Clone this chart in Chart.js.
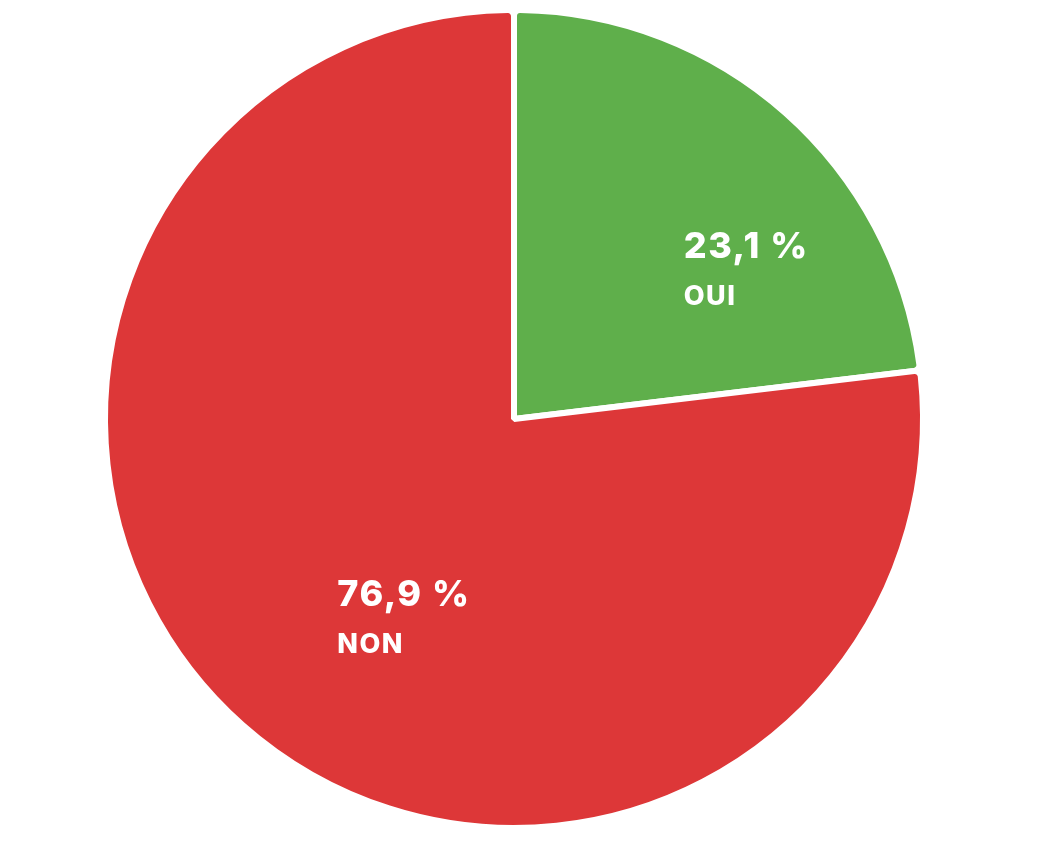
<!DOCTYPE html>
<html>
<head>
<meta charset="utf-8">
<script src="https://cdn.jsdelivr.net/npm/chart.js@4.4.1/dist/chart.umd.min.js"></script>
<style>
  html, body { margin: 0; padding: 0; background: #fff; }
  #wrap { width: 1037px; height: 842px; position: relative; }
</style>
</head>
<body>
<div id="wrap"><canvas id="pie"></canvas></div>
<script>
// ── 데이터 ──
var labels = ['OUI', 'NON'];
var values = [23.1, 76.9];
var colors = ['#5FAF4B', '#DD3738'];

// ── 라벨 위치 보정 (arc 중심 기준) ──
var labelOffsets = [
  { dx: 34, dy: -8 },
  { dx: -41, dy: 34 }
];

function fmt(v) {
  return v.toFixed(1).replace('.', ',') + ' %';
}

var sliceLabels = {
  id: 'sliceLabels',
  afterDatasetsDraw: function(chart) {
    var ctx = chart.ctx;
    var meta = chart.getDatasetMeta(0);
    meta.data.forEach(function(arc, i) {
      var p = arc.tooltipPosition();
      var off = labelOffsets[i];
      var x = p.x + off.dx;
      var y = p.y + off.dy;
      ctx.save();
      ctx.fillStyle = '#fff';
      ctx.textAlign = 'left';
      ctx.textBaseline = 'alphabetic';
      ctx.font = '800 36px Inter';
      ctx.letterSpacing = '1.5px';
      ctx.fillText(fmt(values[i]), x, y);
      ctx.font = '800 27px Inter';
      ctx.letterSpacing = '1.5px';
      ctx.fillText(labels[i], x, y + 47);
      ctx.restore();
    });
  }
};

new Chart(document.getElementById('pie'), {
  type: 'pie',
  data: {
    labels: labels,
    datasets: [{
      data: values,
      backgroundColor: colors,
      borderColor: '#fff',
      borderWidth: 6,
      borderRadius: 6
    }]
  },
  options: {
    responsive: true,
    maintainAspectRatio: false,
    animation: false,
    layout: { padding: { top: 7, bottom: 11, left: 102, right: 111 } },
    plugins: {
      legend: { display: false },
      tooltip: { enabled: false }
    }
  },
  plugins: [sliceLabels]
});
</script>
</body>
</html>
